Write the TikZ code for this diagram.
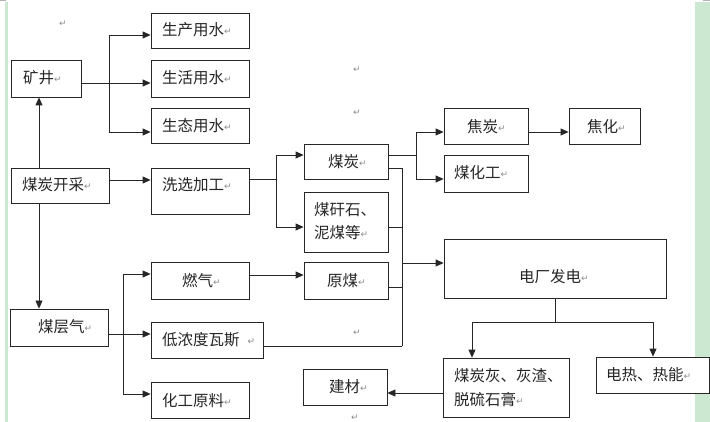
\documentclass[tikz,border=0pt]{standalone}
\usepackage{fontspec}
\setmainfont{Noto Sans CJK SC}
\newfontfamily\dvfont{DejaVu Sans}
\usetikzlibrary{arrows.meta,fit}
\newcommand{\ret}{{\dvfont\fontsize{9}{10}\selectfont\textcolor{black!45}{\raisebox{1pt}{↵}}}}
\definecolor{bandgreen}{HTML}{CDE8D0}
\begin{document}
\begin{tikzpicture}[x=1pt,y=-1pt,
  box/.style={draw=black!85, line width=0.8pt, fill=white, inner sep=0pt},
  ln/.style={draw=black!85, line width=0.8pt},
  arr/.style={-{Triangle[length=8pt,width=7pt]}},
  txt/.style={inner sep=0pt, anchor=west, font=\fontsize{15.5}{23}\selectfont, text=black!85},
  pmark/.style={inner sep=0pt}]
\useasboundingbox (0,0) rectangle (710,422);
% page decorations
\fill[bandgreen] (5,2) rectangle (8,422);
\fill[bandgreen] (695,2) rectangle (710,422);
\fill[black!30] (0,0) rectangle (6,1);
\fill[black!30] (703,0) rectangle (710,1);
% boxes
\node[box, fit={(151,13) (249,48)}] (scys) {};
\node[box, fit={(151,60) (249,97)}] (shys) {};
\node[box, fit={(151,108) (249,143)}] (stys) {};
\node[box, fit={(11,60) (81,97)}] (kj) {};
\node[box, fit={(11,168) (109,203)}] (mtkc) {};
\node[box, fit={(151,168) (249,214)}] (xxjg) {};
\node[box, fit={(304,144) (388,179)}] (mt) {};
\node[box, fit={(304,192) (388,252)}] (mgs) {};
\node[box, fit={(444,108) (528,144)}] (jt) {};
\node[box, fit={(569,108) (640,144)}] (jh) {};
\node[box, fit={(444,155) (528,192)}] (mhg) {};
\node[box, fit={(10,309) (108,346)}] (mcq) {};
\node[box, fit={(151,262) (249,299)}] (rq) {};
\node[box, fit={(304,262) (388,299)}] (ym) {};
\node[box, fit={(151,322) (263,358)}] (dnd) {};
\node[box, fit={(151,382) (249,418)}] (hgyl) {};
\node[box, fit={(303,369) (387,405)}] (jc) {};
\node[box, fit={(444,239) (666,298)}] (dc) {};
\node[box, fit={(443,358) (569,417)}] (mth) {};
\node[box, fit={(596,357) (709,393)}] (drrn) {};
% texts
\node[txt] (t1) at (162,30) {生产用水\ret};
\node[txt] (t2) at (162,78) {生活用水\ret};
\node[txt] (t3) at (162,126) {生态用水\ret};
\node[txt] (t4) at (23,78) {矿井\ret};
\node[txt] (t5) at (22,185) {煤炭开采\ret};
\node[txt] (t6) at (162,185) {洗选加工\ret};
\node[txt] (t7) at (328,162) {煤炭\ret};
\node[txt, align=left] (t8) at (314,221.5) {煤矸石、\\泥煤等\ret};
\node[txt] (t9) at (467,127) {焦炭\ret};
\node[txt] (t10) at (587,127) {焦化\ret};
\node[txt] (t11) at (454,173) {煤化工\ret};
\node[txt] (t12) at (38,327) {煤层气\ret};
\node[txt] (t13) at (182,281) {燃气\ret};
\node[txt] (t14) at (327,281) {原煤\ret};
\node[txt] (t15) at (162,340) {低浓度瓦斯\hspace{8pt}\ret};
\node[txt] (t16) at (162,401) {化工原料\ret};
\node[txt] (t17) at (329,387) {建材\ret};
\node[txt] (t18) at (519,277) {电厂发电\ret};
\node[txt, align=left, font=\fontsize{15.5}{24}\selectfont] (t19) at (454,388) {煤炭灰、灰渣、\\脱硫石膏\ret};
\node[txt] (t20) at (606,375) {电热、热能\ret};
% stray paragraph marks
\node[pmark] (m1) at (63,24) {\ret};
\node[pmark] (m2) at (357,70) {\ret};
\node[pmark] (m3) at (357,113) {\ret};
\node[pmark] (m4) at (357,333) {\ret};
\node[pmark] (m5) at (355,418) {\ret};
% connectors: coal mining up/down
\coordinate (a) at (39,0);
\draw[ln,arr] (mtkc.north -| a) -- (kj.south -| a);
\draw[ln,arr] (mtkc.south -| a) -- (mcq.north -| a);
% mine water
\coordinate (k0) at (109,35);
\coordinate (k1) at (109,83);
\coordinate (k2) at (109,132);
\draw[ln] (kj.east |- k1) -- (k1);
\draw[ln] (k0) -- (k2);
\draw[ln,arr] (k0) -- (scys.west |- k0);
\draw[ln,arr] (k1) -- (shys.west |- k1);
\draw[ln,arr] (k2) -- (stys.west |- k2);
% mining -> washing
\coordinate (w) at (0,180);
\draw[ln,arr] (mtkc.east |- w) -- (xxjg.west |- w);
% washing -> coal / gangue
\coordinate (x0) at (276,155);
\coordinate (x1) at (276,179);
\coordinate (x2) at (276,227);
\draw[ln] (xxjg.east |- x1) -- (x1);
\draw[ln] (x0) -- (x2);
\draw[ln,arr] (x0) -- (mt.west |- x0);
\draw[ln,arr] (x2) -- (mgs.west |- x2);
% coal -> coke / coal chemical
\coordinate (c0) at (416,132);
\coordinate (c1) at (416,155);
\coordinate (c2) at (416,179);
\draw[ln] (mt.east |- c1) -- (c1);
\draw[ln] (c0) -- (c2);
\draw[ln,arr] (c0) -- (jt.west |- c0);
\draw[ln,arr] (c2) -- (mhg.west |- c2);
\draw[ln,arr] (jt.east |- c0) -- (jh.west |- c0);
% collector -> power plant
\coordinate (p0) at (402,168);
\coordinate (p1) at (402,227);
\coordinate (p2) at (402,263);
\coordinate (p3) at (402,287);
\coordinate (p4) at (402,346);
\draw[ln] (mt.east |- p0) -- (p0) -- (p4);
\draw[ln] (mgs.east |- p1) -- (p1);
\draw[ln] (ym.east |- p3) -- (p3);
\draw[ln] (dnd.east |- p4) -- (p4);
\draw[ln,arr] (p2) -- (dc.west |- p2);
% coal-bed methane
\coordinate (g0) at (123,274);
\coordinate (g1) at (123,334);
\coordinate (g2) at (123,394);
\draw[ln] (mcq.east |- g1) -- (g1);
\draw[ln] (g0) -- (g2);
\draw[ln,arr] (g0) -- (rq.west |- g0);
\draw[ln,arr] (g1) -- (dnd.west |- g1);
\draw[ln,arr] (g2) -- (hgyl.west |- g2);
\coordinate (r) at (0,275);
\draw[ln,arr] (rq.east |- r) -- (ym.west |- r);
% power plant outputs
\coordinate (d0) at (555,322);
\coordinate (dl) at (472,322);
\coordinate (dr) at (653,322);
\draw[ln] (dc.south -| d0) -- (d0);
\draw[ln] (dl) -- (dr);
\draw[ln,arr] (dl) -- (mth.north -| dl);
\draw[ln,arr] (dr) -- (drrn.north -| dr);
% ash -> building materials
\coordinate (b) at (0,393);
\draw[ln,arr] (mth.west |- b) -- (jc.east |- b);
\end{tikzpicture}
\end{document}
